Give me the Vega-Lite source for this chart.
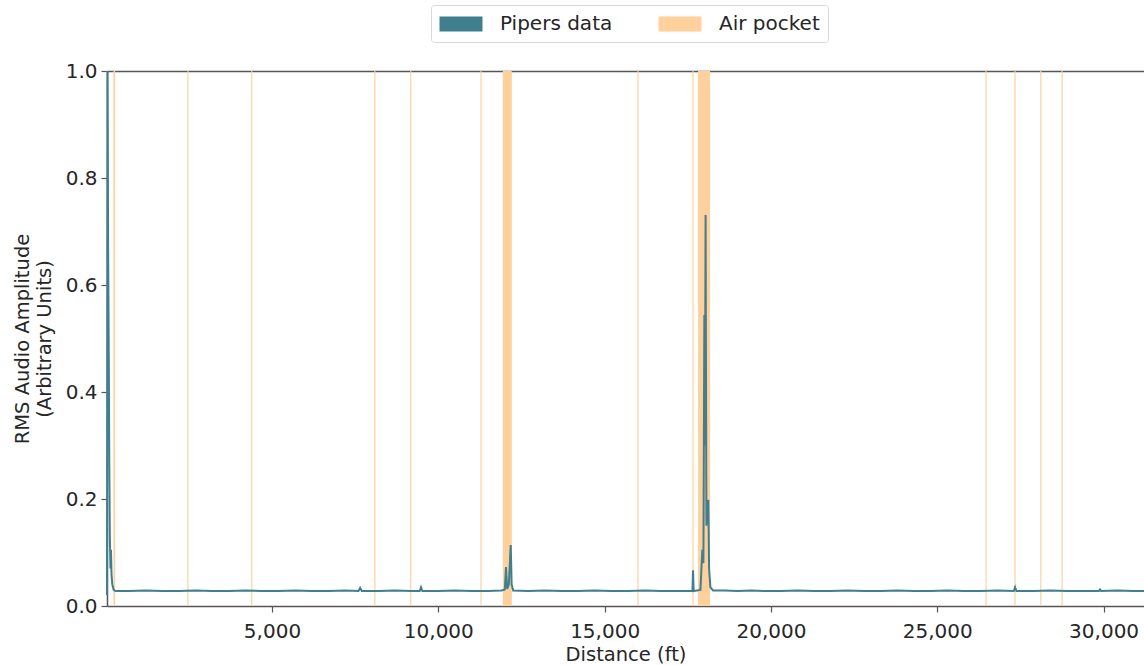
{
  "$schema": "https://vega.github.io/schema/vega-lite/v6.json",
  "width": 1037,
  "height": 535,
  "autosize": {"type": "none"},
  "padding": {"left": 107, "top": 71, "right": 0, "bottom": 59},
  "background": "white",
  "config": {
    "font": "DejaVu Sans",
    "view": {"stroke": null},
    "axis": {
      "labelFont": "DejaVu Sans",
      "labelFontSize": 20,
      "titleFont": "DejaVu Sans",
      "titleFontSize": 19.5,
      "titleFontWeight": "normal",
      "labelColor": "#262626",
      "titleColor": "#262626",
      "domainColor": "#555555",
      "domainWidth": 1.5,
      "tickColor": "#555555",
      "tickWidth": 1.2,
      "tickSize": 6,
      "labelPadding": 4,
      "grid": false
    },
    "legend": {
      "labelFont": "DejaVu Sans",
      "labelFontSize": 20,
      "labelColor": "#262626"
    }
  },
  "datasets": {
    "pockets": [
      {"start": 235, "end": 285},
      {"start": 2455, "end": 2490},
      {"start": 4375, "end": 4410},
      {"start": 8075, "end": 8110},
      {"start": 9155, "end": 9190},
      {"start": 11265, "end": 11300},
      {"start": 11938, "end": 12209},
      {"start": 15985, "end": 16020},
      {"start": 17640, "end": 17675},
      {"start": 17809, "end": 18170},
      {"start": 26450, "end": 26485},
      {"start": 27320, "end": 27355},
      {"start": 28095, "end": 28130},
      {"start": 28735, "end": 28770}
    ],
    "pipers": [
      {"dist": 40, "rms": 0.02},
      {"dist": 55, "rms": 1.0},
      {"dist": 75, "rms": 0.66},
      {"dist": 95, "rms": 0.45},
      {"dist": 110, "rms": 0.26},
      {"dist": 125, "rms": 0.13},
      {"dist": 145, "rms": 0.07},
      {"dist": 160, "rms": 0.105},
      {"dist": 175, "rms": 0.06},
      {"dist": 200, "rms": 0.04},
      {"dist": 240, "rms": 0.03},
      {"dist": 300, "rms": 0.028},
      {"dist": 700, "rms": 0.028},
      {"dist": 1200, "rms": 0.029},
      {"dist": 1700, "rms": 0.028},
      {"dist": 2200, "rms": 0.028},
      {"dist": 2700, "rms": 0.029},
      {"dist": 3200, "rms": 0.028},
      {"dist": 3700, "rms": 0.028},
      {"dist": 4200, "rms": 0.029},
      {"dist": 4700, "rms": 0.028},
      {"dist": 5200, "rms": 0.028},
      {"dist": 5700, "rms": 0.029},
      {"dist": 6200, "rms": 0.028},
      {"dist": 6700, "rms": 0.028},
      {"dist": 7200, "rms": 0.029},
      {"dist": 7600, "rms": 0.028},
      {"dist": 7650, "rms": 0.034},
      {"dist": 7700, "rms": 0.028},
      {"dist": 8200, "rms": 0.028},
      {"dist": 8700, "rms": 0.029},
      {"dist": 9200, "rms": 0.028},
      {"dist": 9440, "rms": 0.028},
      {"dist": 9480, "rms": 0.035},
      {"dist": 9520, "rms": 0.028},
      {"dist": 10000, "rms": 0.028},
      {"dist": 10500, "rms": 0.029},
      {"dist": 11000, "rms": 0.028},
      {"dist": 11500, "rms": 0.028},
      {"dist": 11900, "rms": 0.029},
      {"dist": 12000, "rms": 0.031},
      {"dist": 12035, "rms": 0.073},
      {"dist": 12070, "rms": 0.032},
      {"dist": 12120, "rms": 0.04},
      {"dist": 12177, "rms": 0.114},
      {"dist": 12205, "rms": 0.04},
      {"dist": 12250, "rms": 0.029},
      {"dist": 12700, "rms": 0.028},
      {"dist": 13200, "rms": 0.029},
      {"dist": 13700, "rms": 0.028},
      {"dist": 14200, "rms": 0.028},
      {"dist": 14700, "rms": 0.029},
      {"dist": 15200, "rms": 0.028},
      {"dist": 15700, "rms": 0.028},
      {"dist": 16200, "rms": 0.029},
      {"dist": 16700, "rms": 0.028},
      {"dist": 17200, "rms": 0.028},
      {"dist": 17640, "rms": 0.028},
      {"dist": 17658, "rms": 0.067},
      {"dist": 17676, "rms": 0.028},
      {"dist": 17880, "rms": 0.03},
      {"dist": 17937, "rms": 0.105},
      {"dist": 17970, "rms": 0.08},
      {"dist": 17998, "rms": 0.544},
      {"dist": 18015, "rms": 0.3},
      {"dist": 18035, "rms": 0.731},
      {"dist": 18060, "rms": 0.15},
      {"dist": 18090, "rms": 0.19},
      {"dist": 18118, "rms": 0.198},
      {"dist": 18140, "rms": 0.07},
      {"dist": 18180, "rms": 0.035},
      {"dist": 18260, "rms": 0.029},
      {"dist": 18600, "rms": 0.029},
      {"dist": 19000, "rms": 0.028},
      {"dist": 19400, "rms": 0.029},
      {"dist": 19800, "rms": 0.028},
      {"dist": 20300, "rms": 0.028},
      {"dist": 20800, "rms": 0.029},
      {"dist": 21300, "rms": 0.028},
      {"dist": 21800, "rms": 0.028},
      {"dist": 22300, "rms": 0.029},
      {"dist": 22800, "rms": 0.028},
      {"dist": 23300, "rms": 0.028},
      {"dist": 23800, "rms": 0.029},
      {"dist": 24300, "rms": 0.028},
      {"dist": 24800, "rms": 0.028},
      {"dist": 25300, "rms": 0.029},
      {"dist": 25800, "rms": 0.028},
      {"dist": 26300, "rms": 0.028},
      {"dist": 26800, "rms": 0.029},
      {"dist": 27300, "rms": 0.028},
      {"dist": 27340, "rms": 0.035},
      {"dist": 27380, "rms": 0.028},
      {"dist": 27900, "rms": 0.028},
      {"dist": 28400, "rms": 0.029},
      {"dist": 28900, "rms": 0.028},
      {"dist": 29400, "rms": 0.028},
      {"dist": 29860, "rms": 0.028},
      {"dist": 29895, "rms": 0.031},
      {"dist": 29930, "rms": 0.028},
      {"dist": 30400, "rms": 0.029},
      {"dist": 30900, "rms": 0.028},
      {"dist": 31215, "rms": 0.028}
    ]
  },
  "resolve": {"axis": {"x": "independent"}},
  "layer": [
    {
      "data": {"name": "pockets"},
      "mark": {"type": "rect", "opacity": 1},
      "encoding": {
        "x": {
          "field": "start",
          "type": "quantitative",
          "scale": {"domain": [40, 31215], "nice": false, "zero": false},
          "axis": {
            "orient": "bottom",
            "values": [5000, 10000, 15000, 20000, 25000, 30000],
            "format": ",d",
            "title": "Distance (ft)",
            "labelPadding": 9,
            "titlePadding": 4
          }
        },
        "x2": {"field": "end"},
        "color": {
          "datum": "Air pocket",
          "type": "nominal",
          "scale": {
            "domain": ["Pipers data", "Air pocket"],
            "range": ["#3f7f8e", "#fdd09c"]
          },
          "legend": {
            "title": null,
            "orient": "none",
            "legendX": 324,
            "legendY": -66,
            "direction": "horizontal",
            "columns": 2,
            "symbolType": "M-2,-0.7H2V0.7H-2Z",
            "symbolSize": 462,
            "symbolOffset": 11,
            "symbolStrokeWidth": 0,
            "labelOffset": 28,
            "columnPadding": 45,
            "padding": 8,
            "strokeColor": "#d9d9d9",
            "fillColor": "white",
            "cornerRadius": 3,
            "encode": {
              "symbols": {
                "update": {
                  "fill": {"scale": "color", "field": "value"},
                  "stroke": {"value": "transparent"},
                  "opacity": {"value": 1},
                  "fillOpacity": {"value": 1}
                }
              }
            }
          }
        }
      }
    },
    {
      "data": {"name": "pipers"},
      "mark": {"type": "line", "strokeWidth": 2},
      "encoding": {
        "x": {
          "field": "dist",
          "type": "quantitative",
          "axis": {"orient": "top", "labels": false, "ticks": false, "title": null}
        },
        "y": {
          "field": "rms",
          "type": "quantitative",
          "scale": {"domain": [0, 1], "nice": false},
          "axis": {
            "values": [0, 0.2, 0.4, 0.6, 0.8, 1.0],
            "format": ".1f",
            "title": ["RMS Audio Amplitude", "(Arbitrary Units)"],
            "titlePadding": 11
          }
        },
        "color": {"datum": "Pipers data", "type": "nominal"}
      }
    }
  ]
}
